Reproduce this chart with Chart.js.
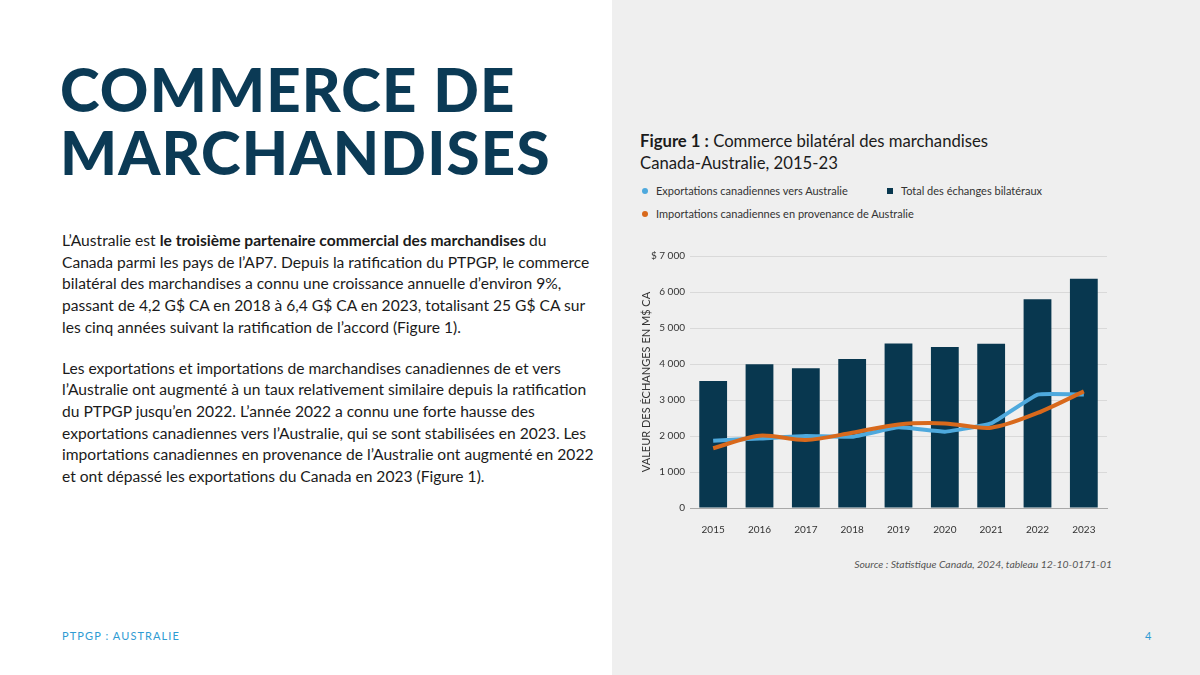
<!DOCTYPE html>
<html lang="fr">
<head>
<meta charset="utf-8">
<title>Commerce de marchandises</title>
<script src="https://cdn.jsdelivr.net/npm/chart.js@4"></script>
<style>
    html, body { margin: 0; padding: 0; }
    body {
        width: 1200px; height: 675px; position: relative; overflow: hidden;
        background: #ffffff; font-family: Lato, "Open Sans", sans-serif; color: #1b1b1b;
    }
    .panel { position: absolute; left: 612px; top: 0; width: 588px; height: 675px; background: #efefef; }
    .title {
        position: absolute; left: 60px; margin: 0; white-space: nowrap;
        font-size: 60px; line-height: 60px; font-weight: 900; letter-spacing: 1.2px; color: #0b3a55;
    }
    .text { position: absolute; left: 62px; top: 230px; width: 550px; font-size: 15.6px; line-height: 21.7px; white-space: nowrap; }
    .text p { margin: 0 0 19px 0; }
    .fig-title { position: absolute; left: 640px; top: 130px; font-size: 16.7px; line-height: 22px; color: #1b1b1b; }
    .legend { position: absolute; left: 640px; top: 184px; font-size: 11px; color: #333; }
    .legend .item { position: absolute; white-space: nowrap; }
    .legend .mk { display: inline-block; width: 6px; height: 6px; margin-right: 8px; vertical-align: 1px; }
    .chart-box { position: absolute; left: 640px; top: 245px; width: 480px; height: 300px; }
    .source { position: absolute; right: 88px; top: 558px; font-size: 10.4px; font-style: italic; color: #555; }
    .footer { position: absolute; top: 629px; font-size: 11px; letter-spacing: 1.1px; color: #2e9bd3; }
</style>
</head>
<body>
<div class="panel"></div>
<div class="title" style="top:59px;">COMMERCE DE</div>
<div class="title" style="top:122px;">MARCHANDISES</div>
<div class="text">
    <p>L’Australie est <b>le troisième partenaire commercial des marchandises</b> du<br>Canada parmi les pays de l’AP7. Depuis la ratification du PTPGP, le commerce<br>bilatéral des marchandises a connu une croissance annuelle d’environ 9%,<br>passant de 4,2 G$ CA en 2018 à 6,4 G$ CA en 2023, totalisant 25 G$ CA sur<br>les cinq années suivant la ratification de l’accord (Figure 1).</p>
    <p>Les exportations et importations de marchandises canadiennes de et vers<br>l’Australie ont augmenté à un taux relativement similaire depuis la ratification<br>du PTPGP jusqu’en 2022. L’année 2022 a connu une forte hausse des<br>exportations canadiennes vers l’Australie, qui se sont stabilisées en 2023. Les<br>importations canadiennes en provenance de l’Australie ont augmenté en 2022<br>et ont dépassé les exportations du Canada en 2023 (Figure 1).</p>
</div>
<div class="fig-title"><b>Figure 1 :</b> Commerce bilatéral des marchandises<br>Canada-Australie, 2015-23</div>
<div class="legend" id="legend"></div>
<div class="chart-box"><canvas id="tradeChart"></canvas></div>
<div class="source">Source : Statistique Canada, 2024, tableau 12-10-0171-01</div>
<div class="footer" style="left:62px;">PTPGP : AUSTRALIE</div>
<div class="footer" style="left:1145px;">4</div>

<script>
// Données (M$ CA)
const years = ['2015', '2016', '2017', '2018', '2019', '2020', '2021', '2022', '2023'];
const totalTrade = [3530, 3990, 3880, 4140, 4570, 4470, 4560, 5800, 6370];
const exportsCa = [1870, 1930, 2000, 1980, 2240, 2120, 2350, 3150, 3150];
const importsCa = [1660, 2010, 1890, 2090, 2320, 2350, 2230, 2640, 3240];

const labelExports = 'Exportations canadiennes vers Australie';
const labelTotal = 'Total des échanges bilatéraux';
const labelImports = 'Importations canadiennes en provenance de Australie';

const navy = '#08374f';
const blue = '#4ea9dd';
const orange = '#d8691c';

// Legend (HTML, same layout as the slide)
const legendItems = [
    { label: labelExports, color: blue, round: true, x: 2, y: 0 },
    { label: labelTotal, color: navy, round: false, x: 247, y: 0 },
    { label: labelImports, color: orange, round: true, x: 2, y: 23 }
];
const legendEl = document.getElementById('legend');
legendItems.forEach(function (it) {
    const div = document.createElement('div');
    div.className = 'item';
    div.style.left = it.x + 'px';
    div.style.top = it.y + 'px';
    div.innerHTML = '<span class="mk" style="background:' + it.color + ';border-radius:' + (it.round ? '50%' : '0') + '"></span>' + it.label;
    legendEl.appendChild(div);
});

function formatThousands(v) {
    const s = String(v).replace(/\B(?=(\d{3})+(?!\d))/g, ' ');
    return v === 7000 ? '$ ' + s : s;
}

const ctx = document.getElementById('tradeChart').getContext('2d');
new Chart(ctx, {
    data: {
        labels: years,
        datasets: [
            {
                type: 'line',
                label: labelImports,
                data: importsCa,
                borderColor: orange,
                borderWidth: 4,
                pointRadius: 0,
                tension: 0.3,
                order: 0
            },
            {
                type: 'line',
                label: labelExports,
                data: exportsCa,
                borderColor: blue,
                borderWidth: 4,
                pointRadius: 0,
                tension: 0.1,
                order: 1
            },
            {
                type: 'bar',
                label: labelTotal,
                data: totalTrade,
                backgroundColor: navy,
                categoryPercentage: 1,
                barPercentage: 0.6,
                order: 2
            }
        ]
    },
    options: {
        responsive: true,
        maintainAspectRatio: false,
        animation: false,
        layout: { padding: { top: 10, right: 13, left: 0, bottom: 0 } },
        plugins: {
            legend: { display: false },
            tooltip: { enabled: false }
        },
        scales: {
            x: {
                grid: { display: false },
                border: { display: true, color: '#a8a8a8', width: 1 },
                ticks: { color: '#333', font: { family: 'Lato', size: 10 }, padding: 8 },
                afterFit: function (scale) { scale.height = 37; }
            },
            y: {
                min: 0,
                max: 7000,
                ticks: {
                    stepSize: 1000,
                    color: '#333',
                    font: { family: 'Lato', size: 10 },
                    padding: 5,
                    callback: function (v) { return formatThousands(v); }
                },
                grid: { color: '#d9d9d9', drawTicks: false },
                border: { display: false },
                title: {
                    display: true,
                    text: 'VALEUR DES ÉCHANGES EN M$ CA',
                    color: '#333',
                    font: { family: 'Lato', size: 11 },
                    padding: 0
                },
                afterFit: function (scale) { scale.width = 50; }
            }
        }
    }
});
</script>
</body>
</html>
